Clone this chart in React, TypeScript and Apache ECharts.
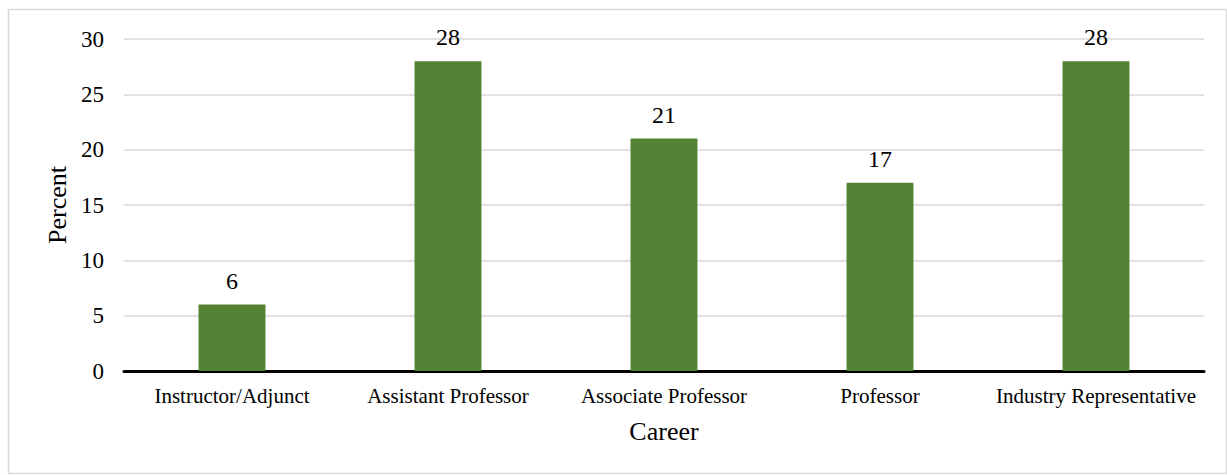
import React, { useEffect, useRef } from "react";
import * as echarts from "echarts";

const categories = [
  "Instructor/Adjunct",
  "Assistant Professor",
  "Associate Professor",
  "Professor",
  "Industry Representative",
];
const percentValues = [6, 28, 21, 17, 28];
const yTicks = { min: 0, max: 30, interval: 5 };

const FONT = "'Liberation Serif', 'Times New Roman', serif";

export default function App() {
  const ref = useRef<HTMLDivElement>(null);

  useEffect(() => {
    if (!ref.current) return;
    const chart = echarts.init(ref.current, undefined, { renderer: "svg" });
    chart.setOption({
      animation: false,
      backgroundColor: "#ffffff",
      textStyle: { fontFamily: FONT, color: "#000" },
      graphic: [
        {
          type: "rect",
          shape: { x: 8.5, y: 9.5, width: 1218, height: 464 },
          style: { fill: "none", stroke: "#d9d9d9", lineWidth: 1.5 },
          silent: true,
          z: -1,
        },
      ],
      grid: { left: 124, right: 23, top: 39, bottom: 104, containLabel: false },
      xAxis: {
        type: "category",
        data: categories,
        name: "Career",
        nameLocation: "middle",
        nameGap: 47,
        nameTextStyle: { fontFamily: FONT, fontSize: 26, color: "#000" },
        axisLine: { lineStyle: { color: "#000", width: 3 } },
        axisTick: { show: false },
        axisLabel: {
          interval: 0,
          hideOverlap: false,
          fontFamily: FONT,
          fontSize: 21,
          color: "#000",
          margin: 14,
        },
      },
      yAxis: {
        type: "value",
        min: yTicks.min,
        max: yTicks.max,
        interval: yTicks.interval,
        name: "Percent",
        nameLocation: "middle",
        nameGap: 54,
        nameRotate: 90,
        nameTextStyle: { fontFamily: FONT, fontSize: 26, color: "#000" },
        axisLine: { show: false },
        axisTick: { show: false },
        axisLabel: { fontFamily: FONT, fontSize: 23, color: "#000", margin: 20 },
        splitLine: { lineStyle: { color: "#d9d9d9", width: 1.5 } },
      },
      series: [
        {
          type: "bar",
          data: percentValues,
          barWidth: "31%",
          itemStyle: { color: "#548235" },
          label: {
            show: true,
            position: "top",
            distance: 12,
            fontFamily: FONT,
            fontSize: 24,
            color: "#000",
          },
        },
      ],
    });
    return () => chart.dispose();
  }, []);

  return (
    <div
      ref={ref}
      style={{ position: "absolute", left: 0, top: 0, width: 1227, height: 475 }}
    />
  );
}
